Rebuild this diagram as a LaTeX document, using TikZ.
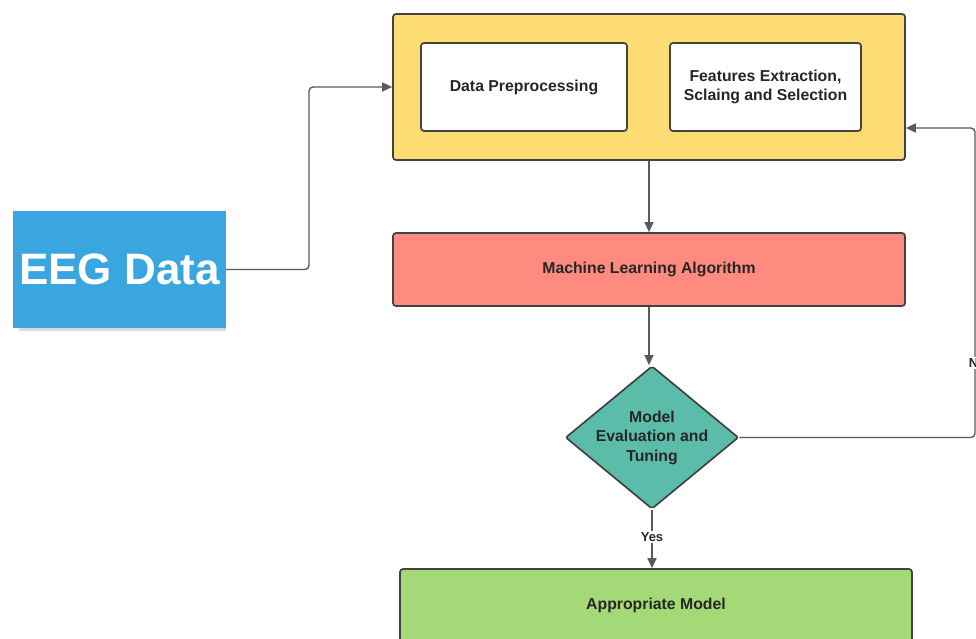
\documentclass[tikz,border=0pt]{standalone}
\usepackage{fontspec}
\setmainfont{Liberation Sans}
\usetikzlibrary{arrows.meta,shapes.geometric,shadows}

\definecolor{prepyellow}{HTML}{FDDD73}
\definecolor{algosalmon}{HTML}{FF8B80}
\definecolor{evalteal}{HTML}{5BBDA9}
\definecolor{modelgreen}{HTML}{A4D977}
\definecolor{eegblue}{HTML}{3AA6E0}
\definecolor{edgegray}{HTML}{5A5A5A}
\definecolor{bordergray}{HTML}{424242}

\tikzset{
  box/.style={draw=bordergray, line width=1.7pt, rounded corners=3pt, inner sep=0pt,
    align=center, text=black!85, font=\bfseries\fontsize{15.8}{19.5}\selectfont},
  arrow/.style={draw=edgegray, line width=1.4pt, -{Triangle[length=10pt,width=9pt]}},
  lbl/.style={fill=white, inner sep=1.5pt, text=black!85, font=\bfseries\fontsize{13}{15}\selectfont}
}

\begin{document}
\begin{tikzpicture}[x=1pt, y=-1pt]
	\useasboundingbox[fill=white] (0,0) rectangle (976,639);

	% Nodes
	\node[fill=eegblue, minimum width=213pt, minimum height=117pt, inner sep=0pt,
		text=white, font=\bfseries\fontsize{44}{50}\selectfont,
		drop shadow={shadow xshift=3pt, shadow yshift=-5pt, shadow scale=0.97, fill=black!30, opacity=0.45}]
		(eeg) at (119.5,269.5) {EEG Data};
	\node[box, fill=prepyellow, minimum width=512pt, minimum height=146pt] (prep) at (649,87) {};
	\node[box, fill=white, minimum width=206pt, minimum height=88pt] (clean) at (524,87) {Data Preprocessing};
	\node[box, fill=white, minimum width=191pt, minimum height=88pt] (feat) at (765.5,87) {Features Extraction,\\Sclaing and Selection};
	\node[box, fill=algosalmon, minimum width=512pt, minimum height=73pt] (algo) at (649,269.5) {Machine Learning Algorithm};
	\node[box, fill=evalteal, diamond, rounded corners=2pt, minimum width=173pt, minimum height=143pt] (eval) at (652,437.5) {};
	\node[align=center, text=black!85, font=\bfseries\fontsize{15.8}{19.5}\selectfont] (evaltext) at (eval.center) {Model\\Evaluation and\\Tuning};
	\node[box, fill=modelgreen, minimum width=512pt, minimum height=73pt] (model) at (656,605.5) {Appropriate Model};

	% Bends
	\coordinate (eegbend) at (309,87);
	\coordinate (noturn) at (975,128);

	% Edges
	\draw[arrow, rounded corners=4pt] (eeg.east) -| (eegbend) -- (prep.west);
	\draw[arrow] (prep.south) -- (algo.north);
	\draw[arrow] (algo.south) -- (algo.south |- eval.north);
	\draw[arrow] (eval.south) -- (eval.south |- model.north) node[lbl, pos=0.47] {Yes};
	\draw[arrow, rounded corners=4pt] (eval.east) -| (noturn) -- (prep.east |- noturn);
	\node[lbl] (nolabel) at (977.5,363) {No};
\end{tikzpicture}
\end{document}
